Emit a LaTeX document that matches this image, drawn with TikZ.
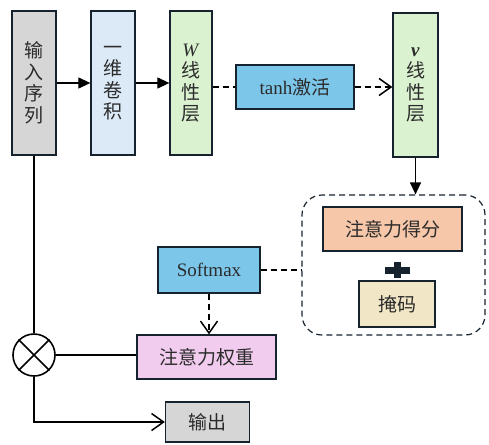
\documentclass[tikz,border=0pt]{standalone}
\usepackage{fontspec}
\setmainfont{Liberation Serif}
\newfontfamily\cjk{Noto Sans CJK SC}
\usetikzlibrary{arrows.meta}

\definecolor{edgeblue}{HTML}{16232F}
\definecolor{txtgray}{HTML}{2B2B2B}
\definecolor{seqgray}{HTML}{D6D6D6}
\definecolor{convblue}{HTML}{DCEAF7}
\definecolor{lingreen}{HTML}{DAF2D0}
\definecolor{actblue}{HTML}{7CC6EA}
\definecolor{scoresalmon}{HTML}{F7C7AA}
\definecolor{maskbeige}{HTML}{F1E6C6}
\definecolor{weightpink}{HTML}{F1CCEE}

\tikzset{
  blk/.style={draw=edgeblue, line width=1.3pt, inner sep=0pt, align=center, text=txtgray,
    font=\fontsize{19}{21.5}\selectfont\cjk},
  solidarr/.style={line width=1.2pt, -{Triangle[length=12pt,width=11pt]}},
  openarr/.style={line width=1.2pt, -{Straight Barb[length=12pt,width=17pt,line width=1.5pt]}},
  dashln/.style={line width=1.2pt, dash pattern=on 6pt off 4pt},
}

\begin{document}
\begin{tikzpicture}[x=1pt,y=1pt,yscale=-1]
\useasboundingbox (0,0) rectangle (489,444);

%Shape: Rectangle [input sequence]
\node[blk, fill=seqgray, minimum width=44, minimum height=144] (seq) at (34,83) {输\\入\\序\\列};
%Shape: Rectangle [1d conv]
\node[blk, fill=convblue, minimum width=44, minimum height=144] (conv) at (113,83) {一\\维\\卷\\积};
%Shape: Rectangle [W linear]
\node[blk, fill=lingreen, minimum width=42, minimum height=144] (wlin) at (191,83) {\textit{\textrm{W}}\\线\\性\\层};
%Shape: Rectangle [tanh]
\node[blk, fill=actblue, minimum width=118, minimum height=44] (tanh) at (295,87) {\textrm{tanh}激活};
%Shape: Rectangle [v linear]
\node[blk, fill=lingreen, minimum width=45, minimum height=144] (vlin) at (415.5,85) {\textbf{\textit{\textrm{v}}}\\线\\性\\层};

%Shape: Rounded Rectangle [dashed group]
\node[draw=edgeblue, dashln, rounded corners=20pt, minimum width=183, minimum height=140, inner sep=0pt] (grp) at (393.5,265) {};
%Shape: Rectangle [score]
\node[blk, fill=scoresalmon, minimum width=139, minimum height=44] (score) at (392.5,229) {注意力得分};
%Shape: Plus
\fill[edgeblue] (385,266.5) rectangle (410,273.5);
\fill[edgeblue] (394,262) rectangle (401,278);
%Shape: Rectangle [mask]
\node[blk, fill=maskbeige, minimum width=76, minimum height=46] (mask) at (397,304) {掩码};

%Shape: Rectangle [softmax]
\node[blk, fill=actblue, minimum width=102, minimum height=46] (smax) at (209,270) {\textrm{Softmax}};
%Shape: Rectangle [weights]
\node[blk, fill=weightpink, minimum width=139, minimum height=44] (wt) at (206.5,357) {注意力权重};
%Shape: Circle [multiply]
\node[draw=black, circle, line width=1.6pt, minimum size=42, inner sep=0pt] (mul) at (34,355) {};
\draw[line width=1.6pt] (mul.north west) -- (mul.south east) (mul.north east) -- (mul.south west);
%Shape: Rectangle [output]
\node[blk, fill=seqgray, minimum width=84, minimum height=40] (out) at (207.5,422) {输出};

%Straight Lines
\draw[solidarr] (seq.east) -- (conv.west);
\draw[solidarr] (conv.east) -- (wlin.west);
\draw[dashln] (wlin.east |- tanh.west) -- (tanh.west);
\draw[dashln, openarr] (tanh.east) -- (tanh.east -| vlin.west);
\draw[solidarr] (vlin.south) -- (vlin.south |- grp.north);
\draw[dashln] (smax.east) -- (smax.east -| grp.west);
\draw[dashln, openarr] (smax.south) -- (smax.south |- wt.north);
\draw[line width=1.2pt] (seq.south) -- (mul.north);
\draw[line width=1.2pt] (mul.east) -- (mul.east -| wt.west);
\draw[openarr] (mul.south) |- (out.west);
\end{tikzpicture}
\end{document}
